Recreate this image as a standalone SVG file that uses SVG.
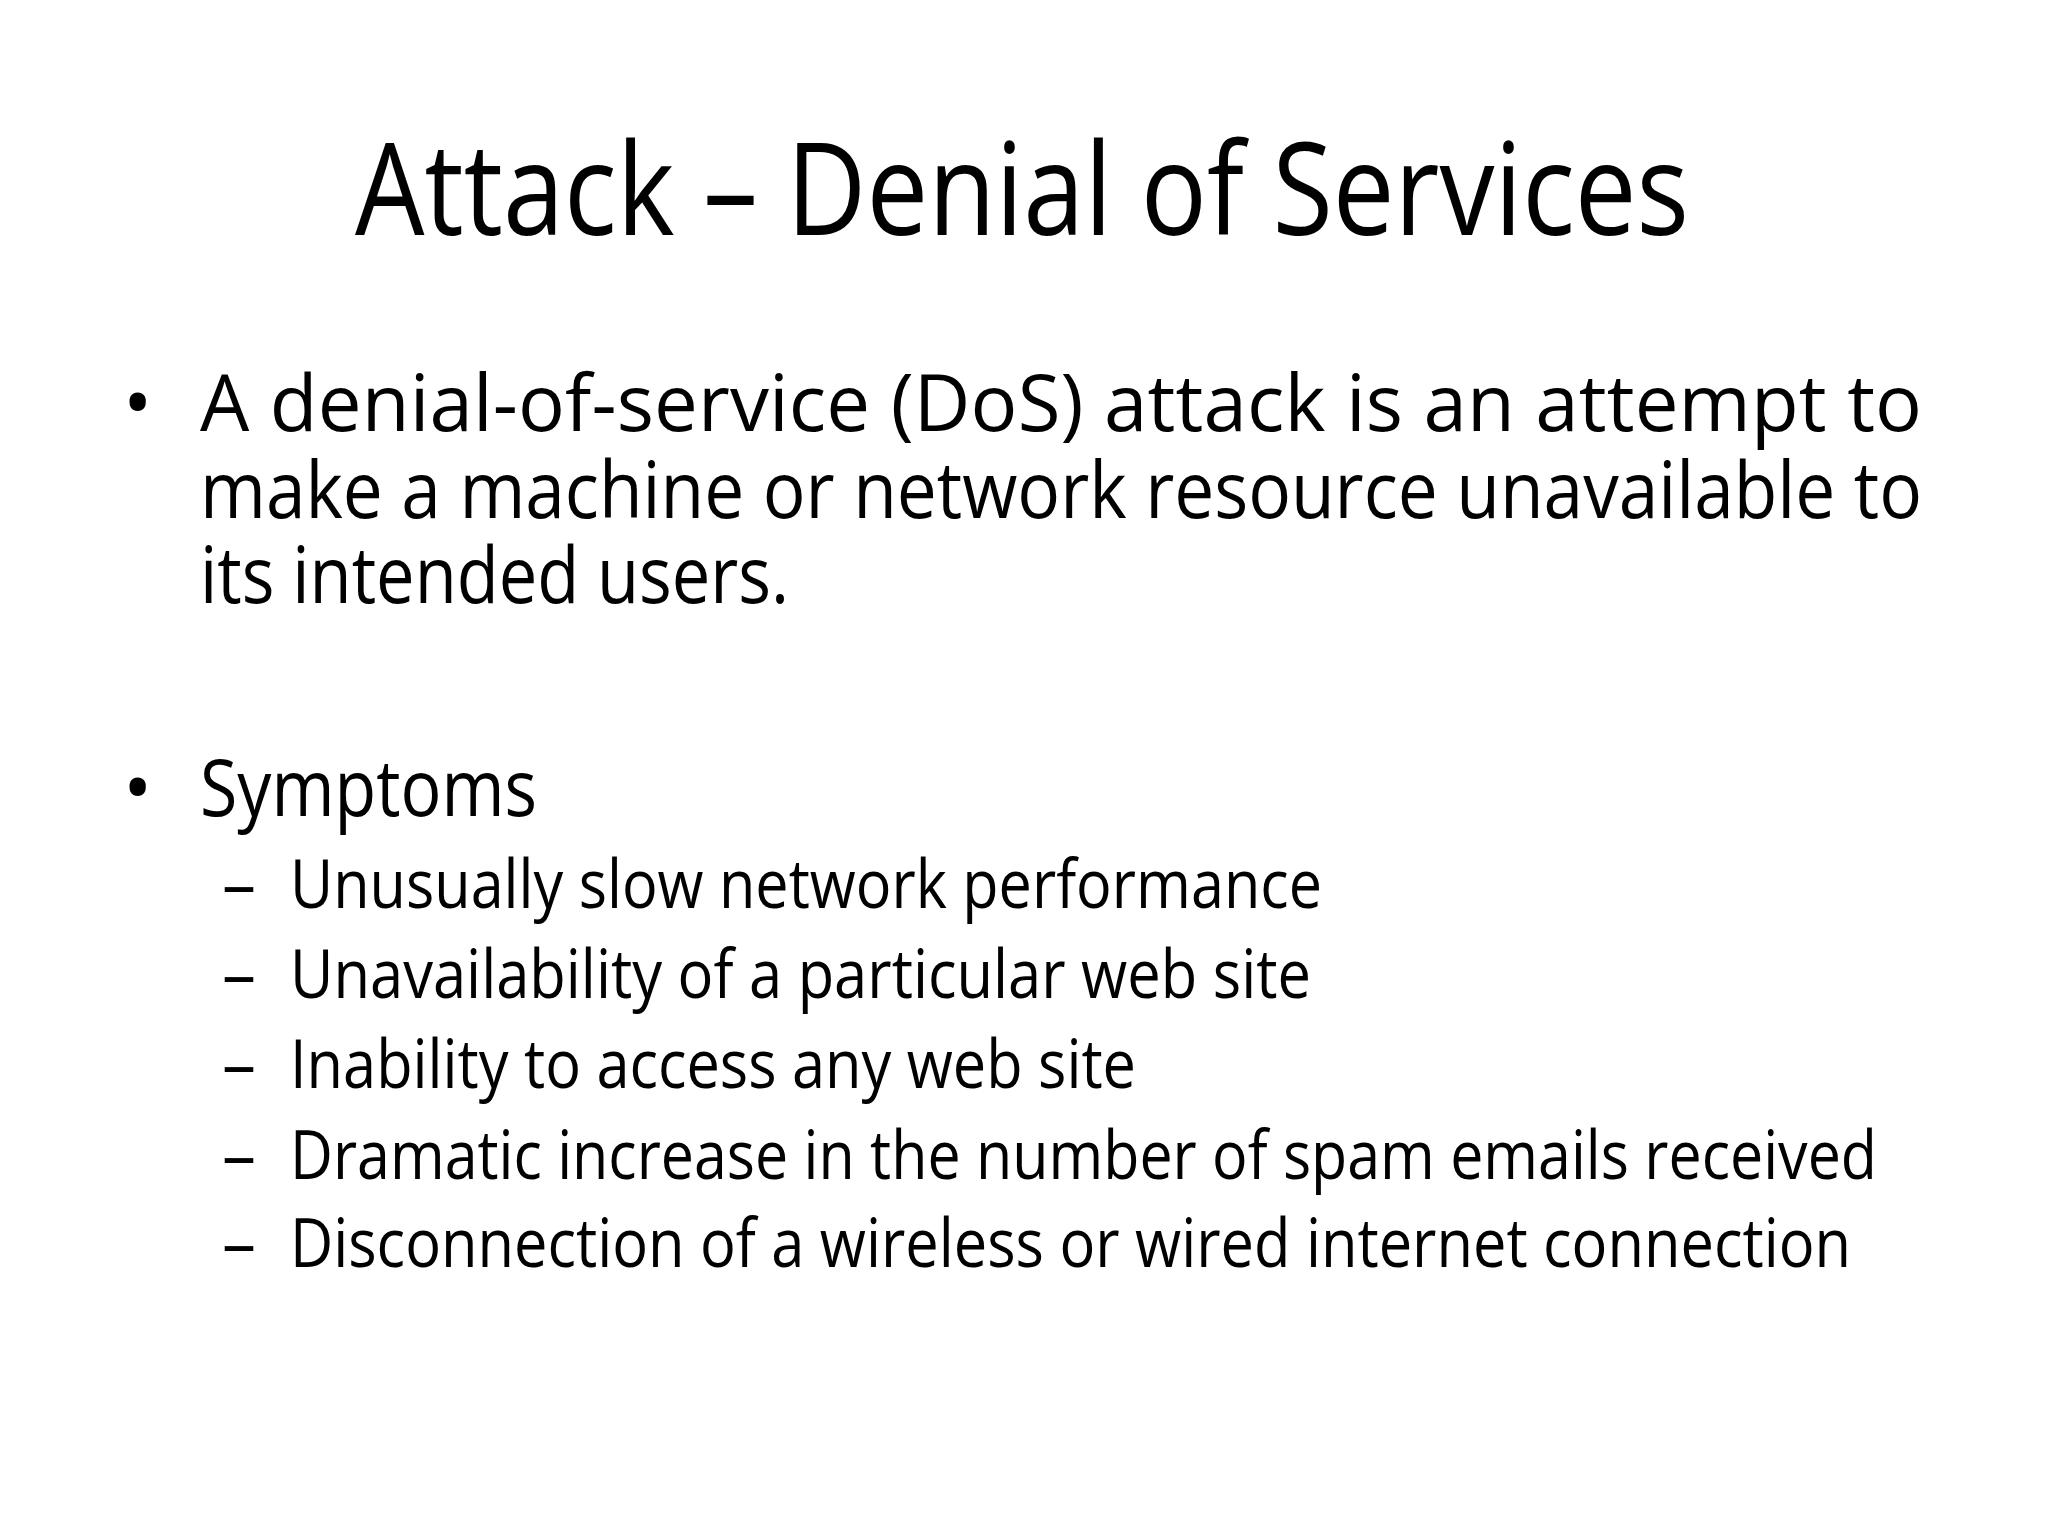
<svg xmlns="http://www.w3.org/2000/svg" width="2048" height="1536" viewBox="0 0 2048 1536">
<style>
text{font-family:"Open Sans","Liberation Sans",sans-serif;fill:#000}
.t{font-size:128px}
.b{font-size:78px}
.s{font-size:68px}
</style>
<rect width="2048" height="1536" fill="#fff"/>
<text class="t" x="355" y="235" textLength="1334" lengthAdjust="spacingAndGlyphs">Attack – Denial of Services</text>
<text class="b" x="123" y="431">•</text>
<text class="b" x="200" y="431" textLength="1722" lengthAdjust="spacing">A denial-of-service (DoS) attack is an attempt to</text>
<text class="b" x="200" y="518" textLength="1722" lengthAdjust="spacingAndGlyphs">make a machine or network resource unavailable to</text>
<text class="b" x="200" y="603" textLength="589" lengthAdjust="spacingAndGlyphs">its intended users.</text>
<text class="b" x="123" y="816">•</text>
<text class="b" x="200" y="816" textLength="337" lengthAdjust="spacingAndGlyphs">Symptoms</text>
<g class="s">
<text class="s" x="222" y="908">–</text>
<text class="s" x="290" y="908" textLength="1032" lengthAdjust="spacingAndGlyphs">Unusually slow network performance</text>
<text class="s" x="222" y="998">–</text>
<text class="s" x="290" y="998" textLength="1021" lengthAdjust="spacingAndGlyphs">Unavailability of a particular web site</text>
<text class="s" x="222" y="1088">–</text>
<text class="s" x="290" y="1088" textLength="846" lengthAdjust="spacingAndGlyphs">Inability to access any web site</text>
<text class="s" x="222" y="1179">–</text>
<text class="s" x="290" y="1179" textLength="1587" lengthAdjust="spacingAndGlyphs">Dramatic increase in the number of spam emails received</text>
<text class="s" x="222" y="1267">–</text>
<text class="s" x="290" y="1267" textLength="1561" lengthAdjust="spacingAndGlyphs">Disconnection of a wireless or wired internet connection</text>
</g>
</svg>
